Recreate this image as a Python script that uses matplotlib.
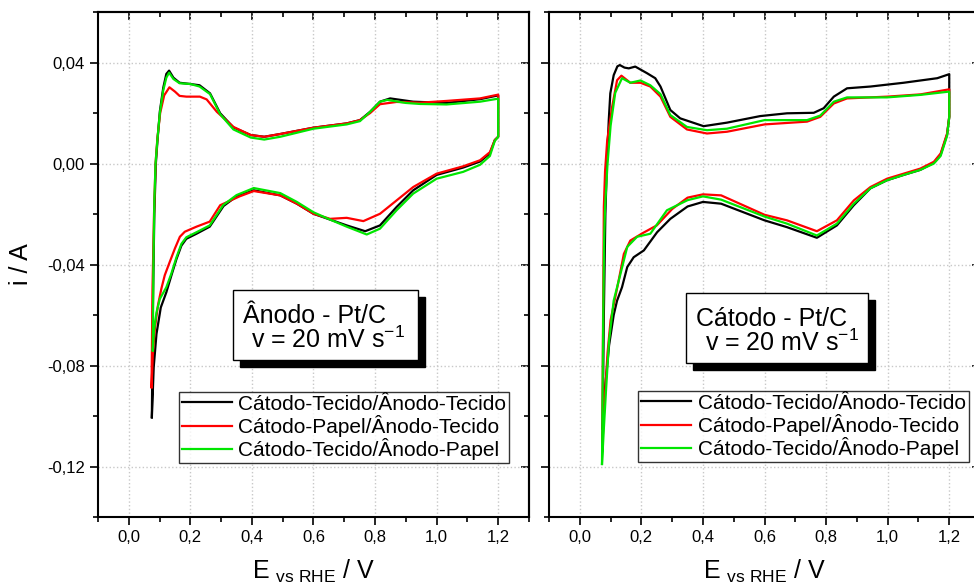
import matplotlib
matplotlib.use('Agg')
from matplotlib import pyplot as plt
from matplotlib.patches import Rectangle
from matplotlib.ticker import MultipleLocator, FuncFormatter

plt.rcParams['font.family'] = ['Liberation Sans', 'DejaVu Sans']
plt.rcParams['mathtext.fontset'] = 'custom'
plt.rcParams['mathtext.rm'] = 'Liberation Sans'
plt.rcParams['mathtext.it'] = 'Liberation Sans:italic'

# --- data (E / V, i / A) ---
# left panel: Anodo - Pt/C
left_tt_e = [0.075, 0.078, 0.083, 0.088, 0.093, 0.101, 0.112, 0.122, 0.131, 0.145, 0.165, 0.200, 0.230,
             0.264, 0.297, 0.340, 0.396, 0.440, 0.492, 0.600, 0.708, 0.751, 0.784, 0.816, 0.849, 0.924,
             1.032, 1.141, 1.200, 1.200, 1.189, 1.173, 1.141, 1.086, 1.000, 0.924, 0.870, 0.816, 0.768,
             0.708, 0.654, 0.600, 0.546, 0.492, 0.406, 0.350, 0.308, 0.263, 0.220, 0.187, 0.171, 0.155,
             0.138, 0.122, 0.104, 0.090, 0.081, 0.075]
left_tt_i = [-0.1005, -0.060, -0.020, 0.000, 0.0087, 0.0207, 0.0300, 0.0355, 0.0368, 0.0340, 0.0320,
             0.0315, 0.0310, 0.0278, 0.0199, 0.0143, 0.0113, 0.0106, 0.0117, 0.0142, 0.0159, 0.0172,
             0.0205, 0.0245, 0.0258, 0.0245, 0.0240, 0.0255, 0.0270, 0.0106, 0.0093, 0.0040, 0.0008,
             -0.0016, -0.0045, -0.0106, -0.0172, -0.0245, -0.0268, -0.0245, -0.0222, -0.0199, -0.0159,
             -0.0126, -0.0106, -0.0130, -0.0168, -0.0250, -0.0278, -0.0298, -0.0325, -0.0378, -0.0445,
             -0.0510, -0.0570, -0.0675, -0.0807, -0.1005]

left_pt_e = [0.074, 0.077, 0.082, 0.087, 0.093, 0.102, 0.115, 0.132, 0.150, 0.165, 0.187, 0.231, 0.253,
             0.286, 0.340, 0.396, 0.440, 0.492, 0.600, 0.708, 0.751, 0.784, 0.816, 0.870, 0.946, 1.032,
             1.141, 1.200, 1.200, 1.189, 1.173, 1.141, 1.086, 1.000, 0.924, 0.870, 0.816, 0.762, 0.708,
             0.654, 0.600, 0.546, 0.492, 0.406, 0.360, 0.297, 0.263, 0.220, 0.182, 0.166, 0.150, 0.133,
             0.117, 0.106, 0.095, 0.085, 0.078, 0.074]
left_pt_i = [-0.0886, -0.050, -0.020, 0.000, 0.0100, 0.0200, 0.0270, 0.0302, 0.0285, 0.0268, 0.0265,
             0.0265, 0.0254, 0.0205, 0.0145, 0.0113, 0.0106, 0.0117, 0.0142, 0.0159, 0.0172, 0.0200,
             0.0235, 0.0244, 0.0241, 0.0248, 0.0258, 0.0273, 0.0106, 0.0093, 0.0045, 0.0013, -0.0011,
             -0.0040, -0.0093, -0.0146, -0.0199, -0.0228, -0.0215, -0.0219, -0.0199, -0.0159, -0.0126,
             -0.0109, -0.0130, -0.0165, -0.0230, -0.0250, -0.0270, -0.0290, -0.0336, -0.0390, -0.0442,
             -0.0495, -0.0560, -0.0650, -0.0760, -0.0886]

left_tp_e = [0.078, 0.080, 0.083, 0.087, 0.093, 0.101, 0.112, 0.122, 0.131, 0.145, 0.165, 0.200, 0.230,
             0.264, 0.297, 0.340, 0.396, 0.440, 0.492, 0.600, 0.708, 0.751, 0.784, 0.816, 0.840, 0.900,
             0.946, 1.032, 1.141, 1.200, 1.200, 1.189, 1.173, 1.141, 1.086, 1.000, 0.924, 0.870, 0.816,
             0.773, 0.708, 0.654, 0.600, 0.546, 0.492, 0.406, 0.350, 0.307, 0.263, 0.220, 0.187, 0.171,
             0.155, 0.138, 0.122, 0.101, 0.090, 0.082, 0.078]
left_tp_i = [-0.074, -0.040, -0.015, 0.000, 0.0095, 0.0200, 0.0290, 0.0340, 0.0360, 0.0335, 0.0318,
             0.0315, 0.0305, 0.0275, 0.0195, 0.0135, 0.0103, 0.0095, 0.0106, 0.0138, 0.0155, 0.0168,
             0.0205, 0.0245, 0.0252, 0.0240, 0.0236, 0.0234, 0.0245, 0.0257, 0.0106, 0.0090, 0.0030,
             -0.0005, -0.0033, -0.0060, -0.0119, -0.0185, -0.0258, -0.0281, -0.0250, -0.0222, -0.0193,
             -0.0152, -0.0117, -0.0097, -0.0125, -0.0164, -0.0245, -0.0272, -0.0292, -0.0318, -0.0371,
             -0.0437, -0.0490, -0.0536, -0.0590, -0.0660, -0.0740]

# right panel: Catodo - Pt/C
right_tt_e = [0.074, 0.078, 0.083, 0.088, 0.094, 0.099, 0.110, 0.122, 0.130, 0.145, 0.159, 0.180, 0.218,
              0.245, 0.262, 0.294, 0.326, 0.402, 0.478, 0.586, 0.673, 0.760, 0.792, 0.825, 0.868, 0.944,
              1.052, 1.161, 1.200, 1.200, 1.193, 1.172, 1.150, 1.106, 1.052, 0.998, 0.944, 0.890, 0.835,
              0.770, 0.673, 0.600, 0.459, 0.400, 0.350, 0.294, 0.251, 0.208, 0.175, 0.154, 0.137, 0.121,
              0.110, 0.095, 0.085, 0.078, 0.074]
right_tt_i = [-0.105, -0.060, -0.020, 0.000, 0.0172, 0.0278, 0.0350, 0.0385, 0.0390, 0.0380, 0.0377,
              0.0384, 0.0358, 0.0338, 0.0305, 0.0212, 0.0179, 0.0148, 0.0162, 0.0188, 0.0199, 0.0201,
              0.0219, 0.0265, 0.0298, 0.0305, 0.0320, 0.0338, 0.0354, 0.0185, 0.0115, 0.0035, 0.0003,
              -0.0025, -0.0045, -0.0066, -0.0098, -0.0165, -0.0245, -0.0294, -0.0252, -0.0225, -0.0159,
              -0.0152, -0.0170, -0.0219, -0.0272, -0.0344, -0.0371, -0.0410, -0.0490, -0.0543, -0.0600,
              -0.0720, -0.0850, -0.0970, -0.105]

right_pt_e = [0.073, 0.075, 0.076, 0.078, 0.082, 0.089, 0.105, 0.121, 0.135, 0.164, 0.197, 0.229, 0.262,
              0.294, 0.348, 0.413, 0.478, 0.600, 0.738, 0.781, 0.825, 0.868, 0.998, 1.107, 1.200, 1.200,
              1.193, 1.172, 1.150, 1.106, 1.052, 0.998, 0.944, 0.890, 0.835, 0.770, 0.673, 0.600, 0.459,
              0.400, 0.350, 0.300, 0.250, 0.205, 0.164, 0.143, 0.126, 0.115, 0.100, 0.090, 0.080, 0.073]
right_pt_i = [-0.112, -0.070, -0.053, -0.0172, -0.0030, 0.0093, 0.0225, 0.0330, 0.0348, 0.0320, 0.0320,
              0.0305, 0.0265, 0.0185, 0.0135, 0.0119, 0.0126, 0.0155, 0.0166, 0.0185, 0.0238, 0.0258,
              0.0265, 0.0274, 0.0294, 0.0185, 0.0119, 0.0040, 0.0007, -0.0020, -0.0040, -0.0060, -0.0093,
              -0.0146, -0.0225, -0.0268, -0.0225, -0.0203, -0.0126, -0.0122, -0.0135, -0.0180, -0.0245,
              -0.0275, -0.0305, -0.0358, -0.0464, -0.0530, -0.0620, -0.0750, -0.0950, -0.112]

right_tp_e = [0.072, 0.074, 0.076, 0.079, 0.082, 0.090, 0.100, 0.115, 0.137, 0.164, 0.197, 0.229, 0.262,
              0.294, 0.348, 0.413, 0.478, 0.600, 0.738, 0.781, 0.825, 0.868, 0.998, 1.107, 1.200, 1.200,
              1.193, 1.172, 1.150, 1.106, 1.052, 0.998, 0.944, 0.890, 0.835, 0.770, 0.673, 0.600, 0.459,
              0.400, 0.350, 0.283, 0.229, 0.186, 0.154, 0.132, 0.110, 0.095, 0.085, 0.078, 0.072]
right_tp_i = [-0.119, -0.090, -0.060, -0.030, -0.0172, 0.000, 0.0150, 0.0280, 0.0338, 0.0320, 0.0329,
              0.0310, 0.0275, 0.0192, 0.0145, 0.0132, 0.0138, 0.0172, 0.0172, 0.0190, 0.0245, 0.0262,
              0.0262, 0.0272, 0.0285, 0.0185, 0.0110, 0.0030, 0.0000, -0.0025, -0.0045, -0.0066, -0.0098,
              -0.0159, -0.0238, -0.0285, -0.0238, -0.0210, -0.0143, -0.0130, -0.0145, -0.0185, -0.0278,
              -0.0290, -0.0330, -0.0437, -0.0543, -0.0700, -0.0900, -0.1050, -0.119]

labels = ['Cátodo-Tecido/Ânodo-Tecido', 'Cátodo-Papel/Ânodo-Tecido', 'Cátodo-Tecido/Ânodo-Papel']
colors = ['#000000', '#ff0000', '#00e600']
panel_titles = ['Ânodo - Pt/C', 'Cátodo - Pt/C']

panels = [
    [(left_tt_e, left_tt_i), (left_pt_e, left_pt_i), (left_tp_e, left_tp_i)],
    [(right_tt_e, right_tt_i), (right_pt_e, right_pt_i), (right_tp_e, right_tp_i)],
]

comma = FuncFormatter(lambda v, pos: ('%.2f' % v).replace('.', ',') if abs(v) > 1e-9 else '0,00')
comma_x = FuncFormatter(lambda v, pos: ('%.1f' % v).replace('.', ','))

fig = plt.figure(figsize=(9.74, 5.88), dpi=100)
ax_left = fig.add_axes([0.1006, 0.1207, 0.4425, 0.8588])
ax_right = fig.add_axes([0.5637, 0.1207, 0.4425, 0.8588])

# box / legend placement per panel (axes coords)
box_pos = [(0.313, 0.311, 0.429, 0.139), (0.318, 0.305, 0.422, 0.139)]
legend_anchor = [(0.954, 0.107), (0.974, 0.109)]

for k, ax in enumerate([ax_left, ax_right]):
    for (e, i), lab, col in zip(panels[k], labels, colors):
        ax.plot(e, i, color=col, lw=1.6, label=lab)

    ax.set_xlim(-0.1, 1.3)
    ax.set_ylim(-0.14, 0.06)
    ax.xaxis.set_major_locator(MultipleLocator(0.2))
    ax.xaxis.set_minor_locator(MultipleLocator(0.1))
    ax.yaxis.set_major_locator(MultipleLocator(0.04))
    ax.yaxis.set_minor_locator(MultipleLocator(0.02))
    ax.set_xticks([0.0, 0.2, 0.4, 0.6, 0.8, 1.0, 1.2])
    ax.xaxis.set_major_formatter(comma_x)
    ax.yaxis.set_major_formatter(comma)
    ax.tick_params(which='major', direction='out', length=6, width=1.2, labelsize=12)
    ax.tick_params(which='minor', direction='out', length=3.5, width=1.2)
    if k == 1:
        ax.tick_params(labelleft=False)
    ax.grid(which='major', color='#c8c8c8', linestyle=':', linewidth=1.0)
    for sp in ax.spines.values():
        sp.set_linewidth(1.5)

    # inner ticks on top and right
    top = ax.secondary_xaxis('top')
    top.set_xticks([0.0, 0.2, 0.4, 0.6, 0.8, 1.0, 1.2])
    top.xaxis.set_minor_locator(MultipleLocator(0.1))
    top.tick_params(which='major', direction='in', length=6, width=1.2, labeltop=False)
    top.tick_params(which='minor', direction='in', length=3.5, width=1.2)
    top.spines['top'].set_linewidth(1.5)
    right = ax.secondary_yaxis('right')
    right.yaxis.set_major_locator(MultipleLocator(0.04))
    right.yaxis.set_minor_locator(MultipleLocator(0.02))
    right.tick_params(which='major', direction='in', length=6, width=1.2, labelright=False)
    right.tick_params(which='minor', direction='in', length=3.5, width=1.2)
    right.spines['right'].set_linewidth(1.5)

    ax.set_xlabel(r'E $_{\mathrm{vs\ RHE}}$ / V', fontsize=18, labelpad=9)

    leg = ax.legend(loc='lower right', bbox_to_anchor=legend_anchor[k], fontsize=15, frameon=True,
                    fancybox=False, borderpad=0.15, labelspacing=0.05, handlelength=2.4,
                    handletextpad=0.3, borderaxespad=0.0)
    leg.get_frame().set_edgecolor('black')
    leg.get_frame().set_linewidth(1.0)

    # text box with shadow
    bx, by, bw, bh = box_pos[k]
    dx, dy = 7 / 431, 7 / 505
    ax.add_patch(Rectangle((bx + dx, by - dy), bw, bh, transform=ax.transAxes,
                           facecolor='black', edgecolor='black', zorder=5))
    ax.add_patch(Rectangle((bx, by), bw, bh, transform=ax.transAxes,
                           facecolor='white', edgecolor='black', lw=1.0, zorder=6))
    ax.text(bx + 0.023, by + bh - 0.065, panel_titles[k], transform=ax.transAxes,
            fontsize=18, ha='left', va='baseline', zorder=7)
    ax.text(bx + 0.043, by + 0.024, r'v = 20 mV s$^{\mathrm{-1}}$', transform=ax.transAxes,
            fontsize=18, ha='left', va='baseline', zorder=7)

ax_left.set_ylabel('i / A', fontsize=18, labelpad=10)

fig.savefig('out.png', dpi=100)
